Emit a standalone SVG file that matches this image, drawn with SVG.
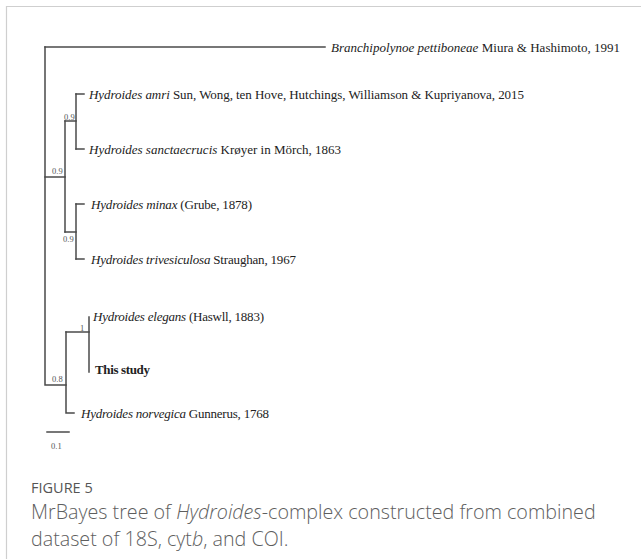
<svg xmlns="http://www.w3.org/2000/svg" width="641" height="559" viewBox="0 0 641 559">
<style>
.br{stroke:#4a4a4a;stroke-width:1.5;fill:none;stroke-linecap:square}
.tip{font-family:"Liberation Serif","Times New Roman",serif;font-size:13px;fill:#222}
.sp{font-family:"Liberation Serif","Times New Roman",serif;font-size:8.5px;fill:#555}
.it{font-style:italic}
.cap{font-family:"Open Sans","Noto Sans",sans-serif;fill:#5e5e5e;font-weight:300}
.fig{font-family:"Open Sans","Noto Sans",sans-serif;fill:#555;font-weight:400;font-size:14.5px}
</style>
<rect width="641" height="559" fill="#fff"/>
<path d="M6.5 559V6.5H641" stroke="#cfcfcf" stroke-width="1.2" fill="none"/>
<g id="connectors" class="br">
<path d="M45 47H325"/>
<path d="M45 47V385H66"/>
<path d="M45 177H65"/>
<path d="M65 121V232"/>
<path d="M65 121H76"/>
<path d="M76 94V149"/>
<path d="M76 94H84"/>
<path d="M76 149H84"/>
<path d="M65 232H76"/>
<path d="M76 204V259"/>
<path d="M76 204H84"/>
<path d="M76 259H84"/>
<path d="M66 332V413H74"/>
<path d="M66 332H89"/>
<path d="M89 317V372"/>
<path d="M47 432H69"/>
</g>
<g id="n-branchipolynoe"><text class="tip" x="331" y="51.5" textLength="289"><tspan class="it">Branchipolynoe pettiboneae</tspan> Miura &amp; Hashimoto, 1991</text></g>
<g id="n-amri"><text class="tip" x="89" y="98.5" textLength="435"><tspan class="it">Hydroides amri</tspan> Sun, Wong, ten Hove, Hutchings, Williamson &amp; Kupriyanova, 2015</text></g>
<g id="n-sanctaecrucis"><text class="tip" x="89" y="153.5" textLength="252"><tspan class="it">Hydroides sanctaecrucis</tspan> Krøyer in Mörch, 1863</text></g>
<g id="n-minax"><text class="tip" x="91" y="208.5" textLength="161"><tspan class="it">Hydroides minax</tspan> (Grube, 1878)</text></g>
<g id="n-trivesiculosa"><text class="tip" x="91" y="263.5" textLength="205"><tspan class="it">Hydroides trivesiculosa</tspan> Straughan, 1967</text></g>
<g id="n-elegans"><text class="tip" x="93" y="320.5" textLength="171"><tspan class="it">Hydroides elegans</tspan> (Haswll, 1883)</text></g>
<g id="n-thisstudy"><text class="tip" x="95" y="373.5" textLength="55" font-weight="bold">This study</text></g>
<g id="n-norvegica"><text class="tip" x="81" y="417.5" textLength="188"><tspan class="it">Hydroides norvegica</tspan> Gunnerus, 1768</text></g>
<g id="support">
<text class="sp" x="52" y="174">0.9</text>
<text class="sp" x="64" y="120">0.9</text>
<text class="sp" x="63" y="242">0.9</text>
<text class="sp" x="52" y="382">0.8</text>
<text class="sp" x="80" y="331">1</text>
<text class="sp" x="51" y="449">0.1</text>
</g>
<g id="caption">
<text class="fig" x="31" y="493">FIGURE 5</text>
<text class="cap" x="31" y="519" font-size="19.7">MrBayes tree of <tspan font-style="italic">Hydroides</tspan>-complex constructed from combined</text>
<text class="cap" x="31" y="546" font-size="19.7">dataset of 18S, cyt<tspan font-style="italic">b</tspan>, and COI.</text>
</g>
</svg>
